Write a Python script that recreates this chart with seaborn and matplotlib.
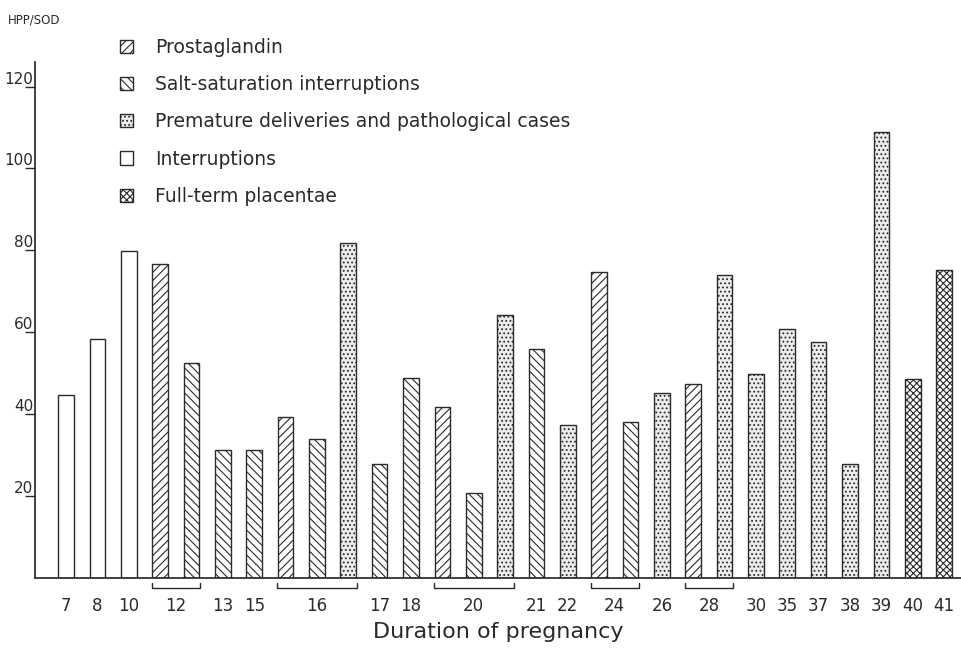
import numpy as np
import pandas as pd
import matplotlib
matplotlib.use("Agg")
import matplotlib.pyplot as plt
import seaborn as sns
from matplotlib.patches import Patch

# one entry per bar, left to right
weeks = [7, 8, 10, 12, 12, 13, 15, 16, 16, 16, 17, 18, 20, 20, 20, 21, 22,
         24, 24, 26, 28, 28, 30, 35, 37, 38, 39, 40, 41]
groups = ["Interruptions", "Interruptions", "Interruptions",
          "Prostaglandin", "Salt", "Salt", "Salt",
          "Prostaglandin", "Salt", "Premature", "Salt", "Salt",
          "Prostaglandin", "Salt", "Premature", "Salt", "Premature",
          "Prostaglandin", "Salt", "Premature", "Prostaglandin", "Premature",
          "Premature", "Premature", "Premature", "Premature", "Premature",
          "Full-term", "Full-term"]
values = [44.6, 58.3, 79.8, 76.6, 52.5, 31.2, 31.2, 39.3, 33.9, 81.7, 27.8,
          48.8, 41.8, 20.7, 64.1, 56.0, 37.3, 74.6, 38.0, 45.2, 47.4, 73.9,
          49.7, 60.7, 57.6, 27.9, 108.8, 48.7, 75.3]

legend_labels = ["Prostaglandin", "Salt-saturation interruptions",
                 "Premature deliveries and pathological cases",
                 "Interruptions", "Full-term placentae"]
legend_keys = ["Prostaglandin", "Salt", "Premature", "Interruptions", "Full-term"]
y_ticks = [20, 40, 60, 80, 100, 120]

# hatch style per category
styles = {
    "Prostaglandin": dict(facecolor="white", hatch="////"),
    "Salt": dict(facecolor="white", hatch="\\\\\\\\"),
    "Premature": dict(facecolor="#ececec", hatch="...."),
    "Interruptions": dict(facecolor="white", hatch=""),
    "Full-term": dict(facecolor="white", hatch="xxxxx"),
}

sns.set_theme(style="white")
plt.rcParams["font.family"] = ["DejaVu Sans"]
plt.rcParams["hatch.linewidth"] = 0.8
plt.rcParams["hatch.color"] = "#333333"
ink = "#2a2a2a"

df = pd.DataFrame({"pos": np.arange(len(values)), "week": weeks,
                   "group": groups, "value": values})

fig = plt.figure(figsize=(9.61, 6.49), dpi=100)
ax = fig.add_axes([35 / 961, 1 - 578 / 649, 926 / 961, (578 - 62) / 649])

sns.barplot(data=df, x="pos", y="value", color="white", width=0.5,
            edgecolor=ink, linewidth=1.0, ax=ax)
for patch, g in zip(ax.patches, df["group"]):
    patch.set_facecolor(styles[g]["facecolor"])
    patch.set_hatch(styles[g]["hatch"])
    patch.set_edgecolor(ink)

ax.set_xlim(-0.99, 28.54)
ax.set_ylim(0, 126)
sns.despine(ax=ax)
ax.spines["left"].set_color(ink)
ax.spines["bottom"].set_color(ink)

# y ticks with labels sitting above the tick marks
ax.set_yticks(y_ticks)
ax.set_yticklabels([str(v) for v in y_ticks], fontsize=11, color=ink)
ax.tick_params(axis="y", direction="out", length=7, width=1, color=ink, pad=-6, left=True)
for lab in ax.get_yticklabels():
    lab.set_verticalalignment("bottom")

# x tick labels: one per week, centred under its bars
centers = df.groupby("week")["pos"].mean()
ax.set_xticks(centers.values)
ax.set_xticklabels([str(w) for w in centers.index], fontsize=12, color=ink)
ax.tick_params(axis="x", length=0, pad=14)
ax.set_xlabel("Duration of pregnancy", fontsize=16, color=ink, labelpad=5)
ax.set_ylabel("")

# brackets under weeks that have several bars
for w, sub in df.groupby("week"):
    if len(sub) < 2:
        continue
    x0 = sub["pos"].min() - 0.27
    x1 = sub["pos"].max() + 0.27
    trans = ax.get_xaxis_transform()
    ax.plot([x0, x0, x1, x1], [-0.010, -0.020, -0.020, -0.010], color=ink,
            lw=1, transform=trans, clip_on=False)

handles = [Patch(facecolor=styles[k]["facecolor"], hatch=styles[k]["hatch"],
                 edgecolor=ink, linewidth=1) for k in legend_keys]
fig.legend(handles, legend_labels, loc="upper left",
           bbox_to_anchor=(120 / 961, 1 - 38 / 649), frameon=False,
           fontsize=13.5, handlelength=0.7, handleheight=0.7,
           handletextpad=1.15, labelspacing=0.97, borderpad=0,
           borderaxespad=0, labelcolor=ink)

fig.text(8 / 961, 1 - 20 / 649, "HPP/SOD", fontsize=8.5, color=ink, va="center")

fig.savefig("out.png", dpi=100)
